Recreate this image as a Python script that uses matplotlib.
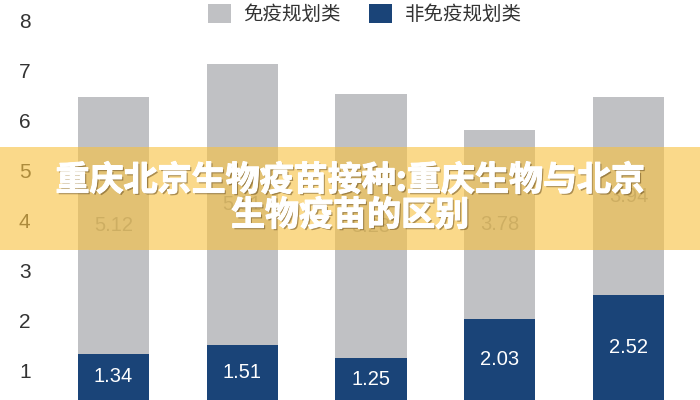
import matplotlib
matplotlib.use("Agg")
import matplotlib.pyplot as plt
from matplotlib.patches import Rectangle
import matplotlib.patheffects as pe

plt.rcParams['font.family'] = ['Liberation Sans', 'Noto Sans CJK SC', 'DejaVu Sans']

categories = ["A", "B", "C", "D", "E"]
non_plan = [1.34, 1.51, 1.25, 2.03, 2.52]
plan = [5.12, 5.61, 5.28, 3.78, 3.94]
series_names = ["免疫规划类", "非免疫规划类"]
yticks = [1, 2, 3, 4, 5, 6, 7, 8]
title_lines = ["重庆北京生物疫苗接种:重庆生物与北京", "生物疫苗的区别"]

GRAY = "#c0c1c4"
NAVY = "#1a4478"

fig = plt.figure(figsize=(7, 4), dpi=100)
ax = fig.add_axes([50/700, 0, 640/700, 1])
x = list(range(len(categories)))

b1 = ax.bar(x, non_plan, width=0.553, color=NAVY, label=series_names[1], zorder=2)
b2 = ax.bar(x, plan, width=0.553, bottom=non_plan, color=GRAY, label=series_names[0], zorder=2)

ax.bar_label(b1, labels=[f"{v:.2f}" for v in non_plan], label_type='center',
             color='white', fontsize=14.5)
ax.bar_label(b2, labels=[f"{v:.2f}" for v in plan], label_type='center',
             color='#8a8e96', fontsize=14.5)

ax.set_xlim(-0.493, 4.478)
ax.set_ylim(0.419, 8.403)
ax.set_yticks(yticks)
ax.set_yticklabels([str(t) for t in yticks], fontsize=15, color='#333333')
ax.tick_params(axis='y', length=0, pad=14)
ax.set_xticks([])
for s in ax.spines.values():
    s.set_visible(False)

leg = ax.legend(handles=[b2, b1], labels=series_names, ncol=2,
                loc='upper center', bbox_to_anchor=(0.521, 0.99),
                bbox_transform=fig.transFigure, frameon=False,
                prop={'family': ['Noto Sans CJK SC', 'DejaVu Sans'], 'size': 14},
                handlelength=1.2, handleheight=1.08, handletextpad=0.62,
                columnspacing=1.45, borderaxespad=0, borderpad=0)
for t in leg.get_texts():
    t.set_color('#333333')

# overlay band
fig.patches.append(Rectangle((0, 1 - 250/400), 1, 103/400, transform=fig.transFigure,
                             facecolor=(248/255, 194/255, 66/255), alpha=0.62,
                             edgecolor='none', zorder=10))

shadow = [pe.withSimplePatchShadow(offset=(1.2, -1.2), shadow_rgbFace=(0.3, 0.2, 0.05), alpha=0.45),
          pe.withStroke(linewidth=0.8, foreground='white'), pe.Normal()]
for txt, yy in zip(title_lines, [180, 215]):
    fig.text(0.5, 1 - yy/400, txt, ha='center', va='center', color='white',
             fontsize=24.5, fontweight='bold', family=['Noto Sans CJK SC', 'DejaVu Sans'],
             zorder=11, path_effects=shadow)

fig.savefig("out.png", dpi=100)
